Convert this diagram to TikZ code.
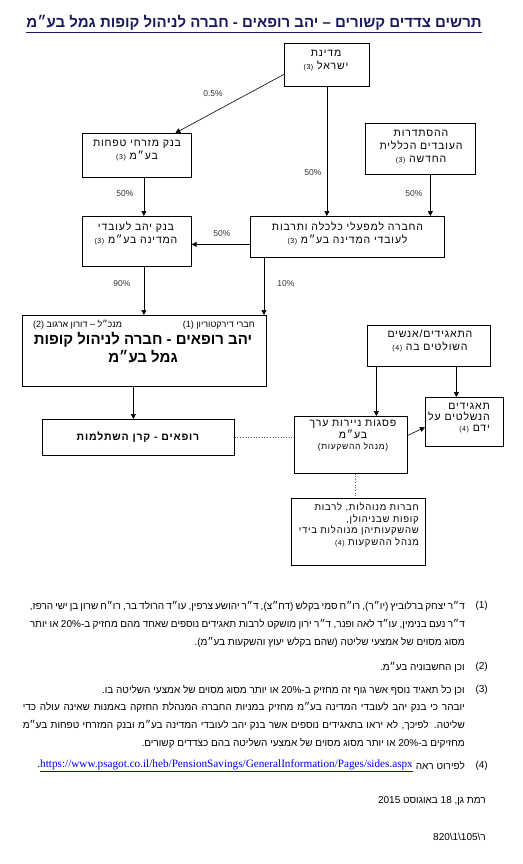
\documentclass[tikz,border=0pt]{standalone}
\usepackage{fontspec}
\setmainfont{Liberation Sans}[Script=Hebrew]
\newfontfamily\boxfont{Liberation Sans}[Script=Hebrew, LetterSpace=8]
\newfontfamily\urlfont{Liberation Serif}
\usetikzlibrary{positioning, arrows.meta}
\TeXXeTstate=1
\definecolor{titleblue}{RGB}{25,25,95}
\definecolor{linkblue}{RGB}{0,0,230}
\newcommand{\hebline}[1]{\beginR#1\endR}
\newcommand{\sm}[1]{{\fontsize{7}{8}\selectfont #1}}

\tikzset{
  box/.style={draw, line width=0.7pt, inner sep=0pt, anchor=north west},
  txt/.style={inner sep=0pt, align=center, font=\boxfont\fontsize{10.5}{13}\selectfont},
  hdr/.style={inner sep=0pt, font=\fontsize{9}{10}\selectfont},
  pct/.style={inner sep=0pt, font=\fontsize{8.5}{10}\selectfont, text=black!80},
  link/.style={-{Triangle[length=5pt,width=5pt]}, line width=0.6pt},
  dotlink/.style={dotted, line width=0.7pt, black!60},
  note/.style={inner sep=0pt, anchor=east, font=\fontsize{10}{12}\selectfont},
}

\begin{document}
\begin{tikzpicture}[x=1pt,y=-1pt]
    \useasboundingbox (0,0) rectangle (522,864);

    % Title
    \node[inner sep=0pt, text=titleblue, font=\bfseries\fontsize{15}{17}\selectfont] (title) at (254,23)
        {\beginR תרשים צדדים קשורים – יהב רופאים - חברה לניהול קופות גמל בע״מ\endR};
    \draw[titleblue, line width=0.9pt] ([yshift=-2pt]title.south west) -- ([yshift=-2pt]title.south east);

    % Boxes
    \node[box, minimum width=85pt, minimum height=43pt] (medina) at (284,43) {};
    \node[box, minimum width=109pt, minimum height=44pt] (mizrahi) at (82,133) {};
    \node[box, minimum width=110pt, minimum height=51pt] (histadrut) at (365,123) {};
    \node[box, minimum width=109pt, minimum height=50pt] (yahav) at (82,216) {};
    \node[box, minimum width=194pt, minimum height=41pt] (hevra) at (250,216) {};
    \node[box, minimum width=244pt, minimum height=71pt] (main) at (22,315) {};
    \node[box, minimum width=192pt, minimum height=36pt] (rofim) at (42,419) {};
    \node[box, minimum width=123pt, minimum height=41pt] (shlitim) at (367,325) {};
    \node[box, minimum width=113pt, minimum height=57pt] (psagot) at (294,416) {};
    \node[box, minimum width=78pt, minimum height=49pt] (nishlatim) at (425,397) {};
    \node[box, minimum width=134pt, minimum height=67pt] (haverot) at (291,498) {};

    % Box texts
    \node[txt] (medinaT) at (326,60.5) {\hebline{מדינת}\\\beginR ישראל \sm{(3)}\endR};
    \node[txt] (mizrahiT) at (137,151) {\beginR בנק מזרחי טפחות\endR\\\beginR בע״מ \sm{(3)}\endR};
    \node[txt] (histadrutT) at (421,147.5) {\hebline{ההסתדרות}\\\beginR העובדים הכללית\endR\\\beginR החדשה \sm{(3)}\endR};
    \node[txt] (yahavT) at (136,233.5) {\beginR בנק יהב לעובדי\endR\\\beginR המדינה בע״מ \sm{(3)}\endR};
    \node[txt] (hevraT) at (347.5,233.5) {\beginR החברה למפעלי כלכלה ותרבות\endR\\\beginR לעובדי המדינה בע״מ \sm{(3)}\endR};
    \node[hdr, anchor=east] (board) at (255,325) {\beginR חברי דירקטוריון (1)\endR};
    \node[hdr, anchor=west] (ceo) at (33,325) {\beginR מנכ״ל – דורון ארגוב (2)\endR};
    \node[txt, font=\bfseries\fontsize{15}{18}\selectfont] (mainT) at (143,348)
        {\beginR יהב רופאים - חברה לניהול קופות\endR\\\beginR גמל בע״מ\endR};
    \node[txt, font=\boxfont\bfseries\fontsize{10.5}{13}\selectfont] (rofimT) at (138,437) {\beginR רופאים - קרן השתלמות\endR};
    \node[txt] (shlitimT) at (430,340.5) {\hebline{התאגידים/אנשים}\\\beginR השולטים בה \sm{(4)}\endR};
    \node[txt, font=\boxfont\fontsize{10.5}{11.5}\selectfont] (psagotT) at (353,436)
        {\beginR פסגות ניירות ערך\endR\\\hebline{בע״מ}\\{\fontsize{8.5}{10}\selectfont\beginR(מנהל ההשקעות)\endR}};
    \node[txt, align=right, anchor=east, font=\boxfont\fontsize{10.5}{11}\selectfont] (nishlatimT) at (490,418)
        {\hebline{תאגידים}\\\beginR הנשלטים על\endR\\\beginR ידם \sm{(4)}\endR};
    \node[txt, align=right, anchor=east, font=\boxfont\fontsize{9.5}{11.5}\selectfont] (haverotT) at (419,525)
        {\beginR חברות מנוהלות, לרבות\endR\\\beginR קופות שבניהולן,\endR\\\beginR שהשקעותיהן מנוהלות בידי\endR\\\beginR מנהל ההשקעות \sm{(4)}\endR};

    % Holdings
    \draw[link] ([yshift=-9.5pt]medina.west) -- ([xshift=38.5pt]mizrahi.north);
    \draw[link] (medina.south) -- (medina.south |- hevra.north);
    \draw[link] ([xshift=7pt]mizrahi.south) -- ([xshift=7pt]mizrahi.south |- yahav.north);
    \draw[link] ([xshift=10pt]histadrut.south) -- ([xshift=10pt]histadrut.south |- hevra.north);
    \draw[link] ([yshift=-7.5pt]hevra.west) -- ([yshift=-7.5pt]hevra.west -| yahav.east);
    \draw[link] ([xshift=7pt]yahav.south) -- ([xshift=7pt]yahav.south |- main.north);
    \draw[link] ([xshift=14pt]hevra.south west) -- ([xshift=14pt]hevra.south west |- main.north);
    \draw[link] ([xshift=-11pt]main.south) -- ([xshift=-11pt]main.south |- rofim.north);
    \draw[link] ([xshift=-52.5pt]shlitim.south) -- ([xshift=-52.5pt]shlitim.south |- psagot.north);
    \draw[link] ([xshift=27.5pt]shlitim.south) -- ([xshift=27.5pt]shlitim.south |- nishlatim.north);
    \draw[link] ([yshift=9.5pt]psagot.east) -- ([yshift=-5.5pt]nishlatim.west);
    \draw[dotlink] (rofim.east) -- (rofim.east -| psagot.west);
    \draw[dotlink] ([xshift=4.5pt]psagot.south) -- ([xshift=4.5pt]psagot.south |- haverot.north);

    % Percentages
    \node[pct] (p1) at (213,94) {0.5\%};
    \node[pct] (p2) at (313,173) {50\%};
    \node[pct] (p3) at (125,194) {50\%};
    \node[pct] (p4) at (414,194) {50\%};
    \node[pct] (p5) at (222,234) {50\%};
    \node[pct] (p6) at (122,284) {90\%};
    \node[pct] (p7) at (286,284) {10\%};

    % Footnotes
    \node[note] (n1) at (488,606) {(1)};
    \node[note] (f1a) at (465,606) {\hbox to 435pt{\beginR ד״ר יצחק ברלוביץ (יו״ר), רו״ח סמי בקלש (דח״צ), ד״ר יהושע צרפין, עו״ד הרולד בר, רו״ח שרון בן ישי הרפז,\endR}};
    \node[note] (f1b) at (465,624) {\hbox to 435pt{\beginR ד״ר נעם בנימין, עו״ד לאה ופנר, ד״ר ירון מושקט לרבות תאגידים נוספים שאחד מהם מחזיק ב-20\% או יותר\endR}};
    \node[note] (f1c) at (465,642) {\beginR מסוג מסוים של אמצעי שליטה (שהם בקלש יעוץ והשקעות בע״מ).\endR};
    \node[note] (n2) at (488,667) {(2)};
    \node[note] (f2) at (465,667) {\beginR וכן החשבוניה בע״מ.\endR};
    \node[note] (n3) at (488,690) {(3)};
    \node[note] (f3) at (465,690) {\beginR וכן כל תאגיד נוסף אשר גוף זה מחזיק ב-20\% או יותר מסוג מסוים של אמצעי השליטה בו.\endR};
    \node[note] (f3a) at (465,707) {\hbox to 442pt{\beginR יובהר כי בנק יהב לעובדי המדינה בע״מ מחזיק במניות החברה המנהלת החזקה באמנות שאינה עולה כדי\endR}};
    \node[note] (f3b) at (465,725) {\hbox to 442pt{\beginR שליטה. לפיכך, לא יראו בתאגידים נוספים אשר בנק יהב לעובדי המדינה בע״מ ובנק המזרחי טפחות בע״מ\endR}};
    \node[note] (f3c) at (465,743) {\beginR מחזיקים ב-20\% או יותר מסוג מסוים של אמצעי השליטה בהם כצדדים קשורים.\endR};
    \node[note] (n4) at (488,766) {(4)};
    \node[note] (f4) at (465,766) {\beginR לפירוט ראה\endR};
    \node[note, font=\urlfont\fontsize{11.2}{12}\selectfont] (url) at (413,766)
        {.{\color{linkblue}\underline{https://www.psagot.co.il/heb/PensionSavings/GeneralInformation/Pages/sides.aspx}}};
    \node[note] (date) at (486,801) {\beginR רמת גן, 18 באוגוסט 2015\endR};
    \node[note] (ref) at (486,837) {\hebline{ר\textbackslash105\textbackslash1\textbackslash820}};
\end{tikzpicture}
\end{document}
